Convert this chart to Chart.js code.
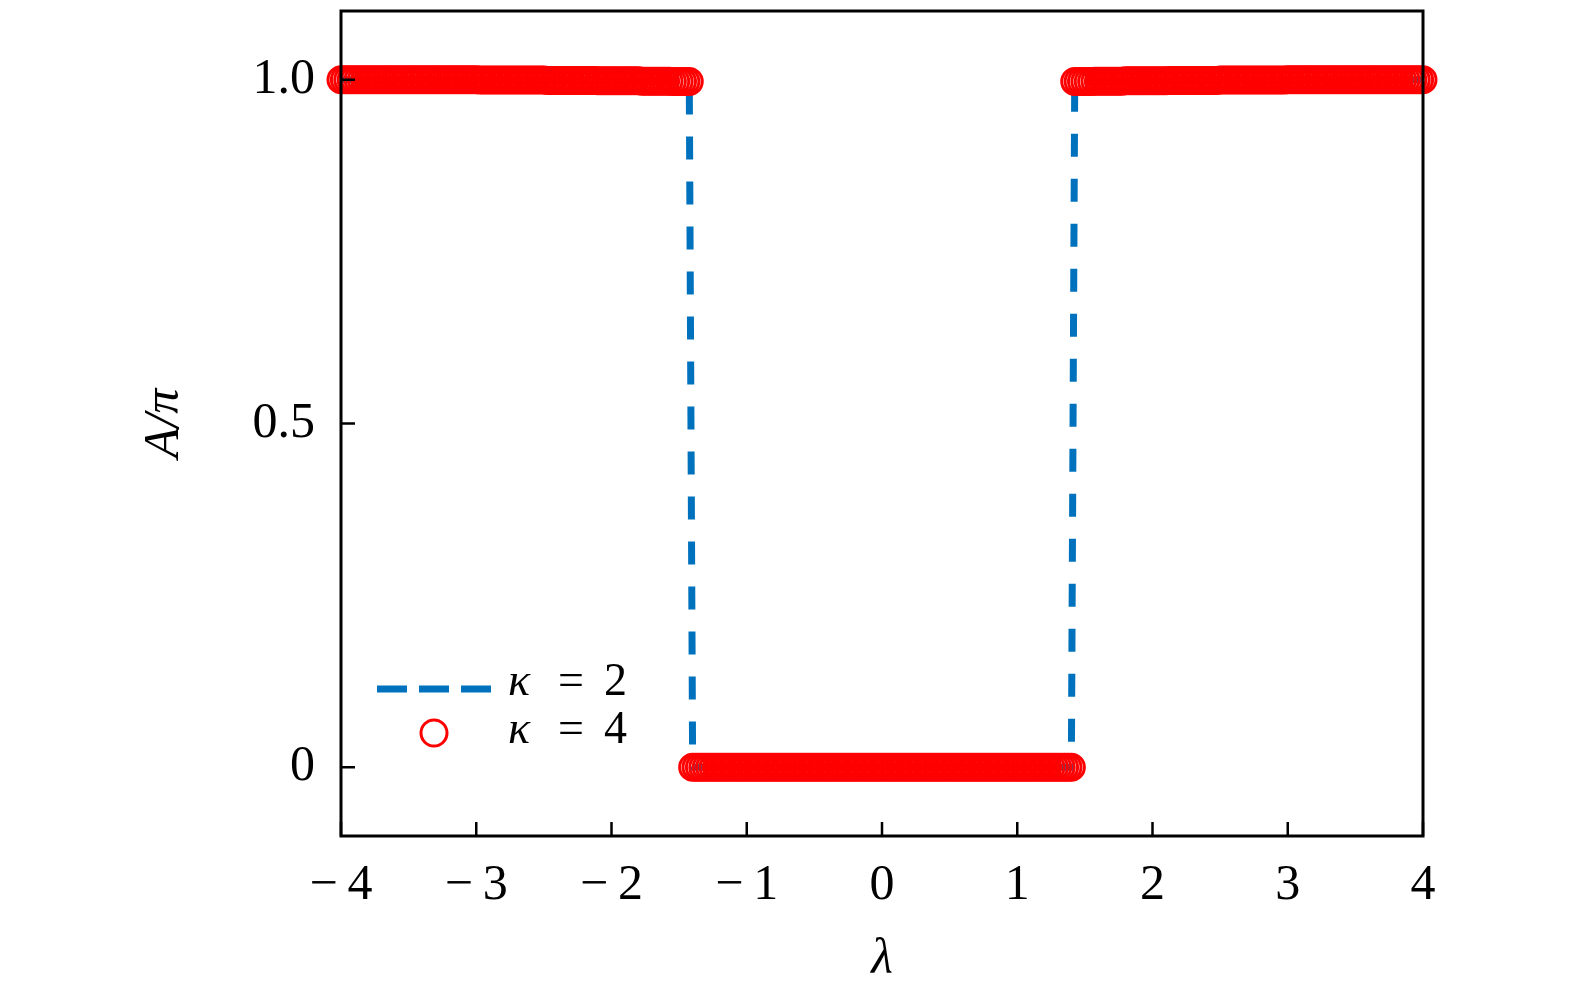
<!DOCTYPE html>
<html><head><meta charset="utf-8">
<script src="https://cdn.jsdelivr.net/npm/chart.js@4/dist/chart.umd.min.js"></script>
<style>html,body{margin:0;padding:0;background:#fff;overflow:hidden}</style>
</head><body>
<canvas id="c" width="1575" height="998" style="display:block;width:1575px;height:998px"></canvas>
<script>
// λ grid (sampled values)
const lambda = [
-4,-3.975,-3.95,-3.925,-3.9,-3.875,-3.85,-3.825,-3.8,-3.775,
-3.75,-3.725,-3.7,-3.675,-3.65,-3.625,-3.6,-3.575,-3.55,-3.525,
-3.5,-3.475,-3.45,-3.425,-3.4,-3.375,-3.35,-3.325,-3.3,-3.275,
-3.25,-3.225,-3.2,-3.175,-3.15,-3.125,-3.1,-3.075,-3.05,-3.025,
-3,-2.975,-2.95,-2.925,-2.9,-2.875,-2.85,-2.825,-2.8,-2.775,
-2.75,-2.725,-2.7,-2.675,-2.65,-2.625,-2.6,-2.575,-2.55,-2.525,
-2.5,-2.475,-2.45,-2.425,-2.4,-2.375,-2.35,-2.325,-2.3,-2.275,
-2.25,-2.225,-2.2,-2.175,-2.15,-2.125,-2.1,-2.075,-2.05,-2.025,
-2,-1.975,-1.95,-1.925,-1.9,-1.875,-1.85,-1.825,-1.8,-1.775,
-1.75,-1.725,-1.7,-1.675,-1.65,-1.625,-1.6,-1.575,-1.55,-1.525,
-1.5,-1.475,-1.45,-1.425,-1.4,-1.375,-1.35,-1.325,-1.3,-1.275,
-1.25,-1.225,-1.2,-1.175,-1.15,-1.125,-1.1,-1.075,-1.05,-1.025,
-1,-0.975,-0.95,-0.925,-0.9,-0.875,-0.85,-0.825,-0.8,-0.775,
-0.75,-0.725,-0.7,-0.675,-0.65,-0.625,-0.6,-0.575,-0.55,-0.525,
-0.5,-0.475,-0.45,-0.425,-0.4,-0.375,-0.35,-0.325,-0.3,-0.275,
-0.25,-0.225,-0.2,-0.175,-0.15,-0.125,-0.1,-0.075,-0.05,-0.025,
0,0.025,0.05,0.075,0.1,0.125,0.15,0.175,0.2,0.225,
0.25,0.275,0.3,0.325,0.35,0.375,0.4,0.425,0.45,0.475,
0.5,0.525,0.55,0.575,0.6,0.625,0.65,0.675,0.7,0.725,
0.75,0.775,0.8,0.825,0.85,0.875,0.9,0.925,0.95,0.975,
1,1.025,1.05,1.075,1.1,1.125,1.15,1.175,1.2,1.225,
1.25,1.275,1.3,1.325,1.35,1.375,1.4,1.425,1.45,1.475,
1.5,1.525,1.55,1.575,1.6,1.625,1.65,1.675,1.7,1.725,
1.75,1.775,1.8,1.825,1.85,1.875,1.9,1.925,1.95,1.975,
2,2.025,2.05,2.075,2.1,2.125,2.15,2.175,2.2,2.225,
2.25,2.275,2.3,2.325,2.35,2.375,2.4,2.425,2.45,2.475,
2.5,2.525,2.55,2.575,2.6,2.625,2.65,2.675,2.7,2.725,
2.75,2.775,2.8,2.825,2.85,2.875,2.9,2.925,2.95,2.975,
3,3.025,3.05,3.075,3.1,3.125,3.15,3.175,3.2,3.225,
3.25,3.275,3.3,3.325,3.35,3.375,3.4,3.425,3.45,3.475,
3.5,3.525,3.55,3.575,3.6,3.625,3.65,3.675,3.7,3.725,
3.75,3.775,3.8,3.825,3.85,3.875,3.9,3.925,3.95,3.975,
4];

// A/π for κ = 2 (dashed line)
const kappa2 = [
1,1,1,1,1,1,1,1,1,1,
1,1,1,1,1,1,1,1,1,1,
1,1,1,1,1,1,1,1,1,1,
1,1,1,1,1,1,1,1,1,1,
1,1,1,1,1,1,1,1,1,1,
1,1,1,1,1,1,1,1,1,1,
1,1,1,1,1,1,1,1,1,1,
1,1,1,1,1,1,1,1,1,1,
1,1,1,1,1,1,1,1,1,1,
1,1,1,1,1,1,1,1,1,1,
1,1,1,1,0,0,0,0,0,0,
0,0,0,0,0,0,0,0,0,0,
0,0,0,0,0,0,0,0,0,0,
0,0,0,0,0,0,0,0,0,0,
0,0,0,0,0,0,0,0,0,0,
0,0,0,0,0,0,0,0,0,0,
0,0,0,0,0,0,0,0,0,0,
0,0,0,0,0,0,0,0,0,0,
0,0,0,0,0,0,0,0,0,0,
0,0,0,0,0,0,0,0,0,0,
0,0,0,0,0,0,0,0,0,0,
0,0,0,0,0,0,0,1,1,1,
1,1,1,1,1,1,1,1,1,1,
1,1,1,1,1,1,1,1,1,1,
1,1,1,1,1,1,1,1,1,1,
1,1,1,1,1,1,1,1,1,1,
1,1,1,1,1,1,1,1,1,1,
1,1,1,1,1,1,1,1,1,1,
1,1,1,1,1,1,1,1,1,1,
1,1,1,1,1,1,1,1,1,1,
1,1,1,1,1,1,1,1,1,1,
1,1,1,1,1,1,1,1,1,1,
1];

// A/π for κ = 4 (open circles)
const kappa4 = [
1,1,1,1,1,1,1,1,1,1,
1,1,1,1,1,1,1,1,1,1,
1,1,1,1,1,1,1,1,1,1,
1,1,1,1,1,1,1,1,1,1,
1,0.9995,0.9995,0.9995,0.9995,0.9995,0.9995,0.9995,0.9995,0.9995,
0.9995,0.9995,0.9995,0.9995,0.9995,0.9995,0.9995,0.9995,0.9995,0.9995,
0.9995,0.999,0.999,0.999,0.999,0.999,0.999,0.999,0.999,0.999,
0.999,0.999,0.999,0.999,0.999,0.999,0.9985,0.9985,0.9985,0.9985,
0.9985,0.9985,0.9985,0.9985,0.9985,0.9985,0.9985,0.9985,0.9985,0.998,
0.998,0.998,0.998,0.998,0.998,0.998,0.998,0.998,0.9975,0.9975,
0.9975,0.9975,0.9975,0.9975,0,0,0,0,0,0,
0,0,0,0,0,0,0,0,0,0,
0,0,0,0,0,0,0,0,0,0,
0,0,0,0,0,0,0,0,0,0,
0,0,0,0,0,0,0,0,0,0,
0,0,0,0,0,0,0,0,0,0,
0,0,0,0,0,0,0,0,0,0,
0,0,0,0,0,0,0,0,0,0,
0,0,0,0,0,0,0,0,0,0,
0,0,0,0,0,0,0,0,0,0,
0,0,0,0,0,0,0,0,0,0,
0,0,0,0,0,0,0,0.9975,0.9975,0.9975,
0.9975,0.9975,0.9975,0.998,0.998,0.998,0.998,0.998,0.998,0.998,
0.998,0.998,0.9985,0.9985,0.9985,0.9985,0.9985,0.9985,0.9985,0.9985,
0.9985,0.9985,0.9985,0.9985,0.9985,0.999,0.999,0.999,0.999,0.999,
0.999,0.999,0.999,0.999,0.999,0.999,0.999,0.999,0.999,0.999,
0.9995,0.9995,0.9995,0.9995,0.9995,0.9995,0.9995,0.9995,0.9995,0.9995,
0.9995,0.9995,0.9995,0.9995,0.9995,0.9995,0.9995,0.9995,0.9995,0.9995,
1,1,1,1,1,1,1,1,1,1,
1,1,1,1,1,1,1,1,1,1,
1,1,1,1,1,1,1,1,1,1,
1,1,1,1,1,1,1,1,1,1,
1];

const xTickValues = [-4,-3,-2,-1,0,1,2,3,4];
const xTickLabels = ['\u2212\u20094','\u2212\u20093','\u2212\u20092','\u2212\u20091','0','1','2','3','4'];
const yTickValues = [0,0.5,1];
const yTickLabels = ['0','0.5','1.0'];
const seriesSymbol = ['\u03BA','\u03BA'];
const seriesValue = ['2','4'];
const xTitle = '\u03BB';
const yTitle = 'A/\u03C0';

const FONT = 'Liberation Serif';
const BLUE = '#0072BD';
const RED = '#FF0000';

const framePlugin = {
  id: 'frame',
  afterDraw(chart) {
    const {ctx, chartArea: a, scales: {x, y}} = chart;
    ctx.save();
    ctx.strokeStyle = '#000';
    ctx.lineWidth = 3;
    ctx.strokeRect(a.left, a.top, a.right - a.left, a.bottom - a.top);
    ctx.lineWidth = 2.5;
    ctx.beginPath();
    xTickValues.forEach(v => { const p = x.getPixelForValue(v); ctx.moveTo(p, a.bottom); ctx.lineTo(p, a.bottom - 14); });
    yTickValues.forEach(v => { const p = y.getPixelForValue(v); ctx.moveTo(a.left, p); ctx.lineTo(a.left + 14, p); });
    ctx.stroke();

    // legend
    const lx = a.left + 36, ly1 = 689, ly2 = 733;
    ctx.strokeStyle = BLUE; ctx.lineWidth = 7; ctx.setLineDash([30, 12]);
    ctx.beginPath(); ctx.moveTo(lx, ly1); ctx.lineTo(lx + 114, ly1); ctx.stroke();
    ctx.setLineDash([]);
    ctx.strokeStyle = RED; ctx.lineWidth = 3;
    ctx.beginPath(); ctx.arc(lx + 57, ly2, 13, 0, Math.PI * 2); ctx.stroke();
    ctx.fillStyle = '#000';
    ctx.textBaseline = 'alphabetic';
    [ly1 + 6, ly2 + 10].forEach((by, i) => {
      ctx.textAlign = 'left';
      ctx.font = 'italic 46px "' + FONT + '"';
      ctx.fillText(seriesSymbol[i], lx + 131, by);
      ctx.font = '46px "' + FONT + '"';
      ctx.textAlign = 'center';
      ctx.fillText('=', lx + 194, by);
      ctx.textAlign = 'left';
      ctx.fillText(seriesValue[i], lx + 227, by);
    });
    ctx.restore();
  }
};

new Chart(document.getElementById('c'), {
  type: 'line',
  data: {
    datasets: [
      {
        label: seriesSymbol[0] + ' = ' + seriesValue[0],
        data: lambda.map((v, i) => ({x: v, y: kappa2[i]})),
        borderColor: BLUE, backgroundColor: BLUE,
        borderWidth: 7, borderDash: [23, 22],
        pointRadius: 0, fill: false, tension: 0, order: 1
      },
      {
        label: seriesSymbol[1] + ' = ' + seriesValue[1],
        data: lambda.map((v, i) => ({x: v, y: kappa4[i]})),
        showLine: false,
        pointStyle: 'circle', pointRadius: 13, pointBorderWidth: 3,
        pointBorderColor: RED, pointBackgroundColor: 'rgba(0,0,0,0)',
        borderColor: RED, clip: false, order: 0
      }
    ]
  },
  options: {
    responsive: false,
    devicePixelRatio: 1,
    animation: false,
    layout: {autoPadding: false, padding: {left: 0, top: 11, right: 152, bottom: 0}},
    plugins: {legend: {display: false}, tooltip: {enabled: false}},
    scales: {
      x: {
        type: 'linear', min: -4, max: 4,
        afterBuildTicks: s => { s.ticks = xTickValues.map(v => ({value: v})); },
        afterFit: s => { s.height = 162; s.paddingLeft = 0; s.paddingRight = 0; s.paddingTop = 0; s.paddingBottom = 0; },
        grid: {display: false, drawTicks: false},
        border: {display: false},
        ticks: {
          autoSkip: false, maxRotation: 0, padding: 20, color: '#000',
          font: {family: FONT, size: 50},
          callback: v => xTickLabels[xTickValues.indexOf(v)]
        },
        title: {display: true, text: xTitle, color: '#000',
          font: {family: FONT, size: 50, style: 'italic'}, padding: {top: 0, bottom: 8}}
      },
      y: {
        type: 'linear', min: -0.1, max: 1.1,
        afterBuildTicks: s => { s.ticks = yTickValues.map(v => ({value: v})); },
        afterFit: s => { s.width = 341; s.paddingLeft = 0; s.paddingRight = 0; s.paddingTop = 0; s.paddingBottom = 0; },
        grid: {display: false, drawTicks: false},
        border: {display: false},
        ticks: {
          padding: 26, color: '#000',
          font: {family: FONT, size: 50},
          callback: v => yTickLabels[yTickValues.indexOf(v)]
        },
        title: {display: true, text: yTitle, color: '#000',
          font: {family: FONT, size: 50, style: 'italic'}, padding: {top: 135, bottom: 0}}
      }
    }
  },
  plugins: [framePlugin]
});
</script>
</body></html>
